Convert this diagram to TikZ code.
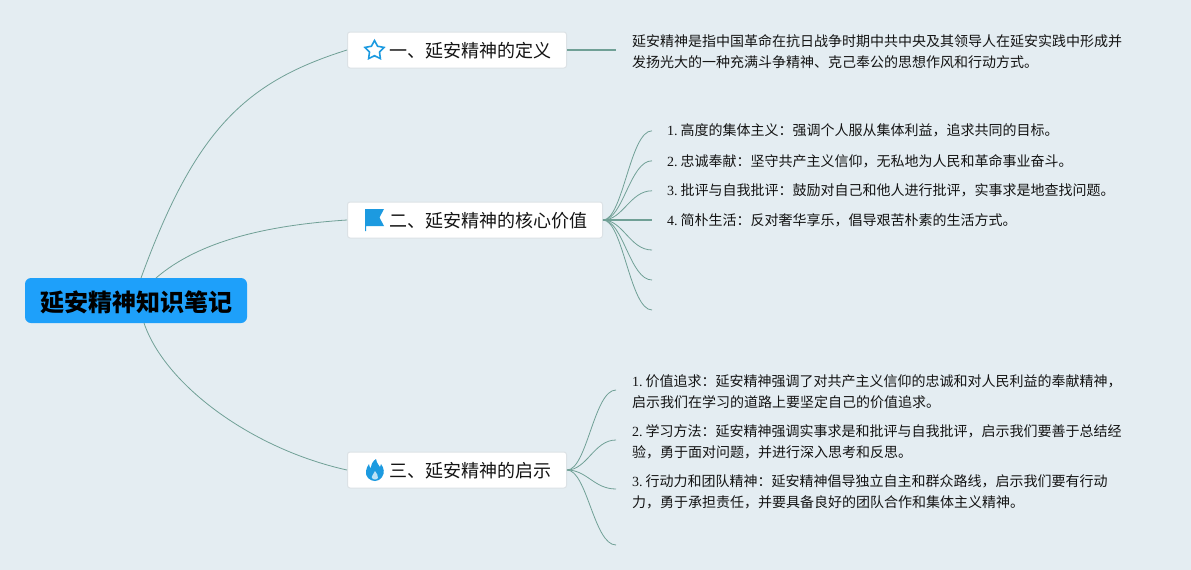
\documentclass[tikz,border=0pt]{standalone}
\usepackage{fontspec}
\setmainfont{Noto Sans CJK SC}
\newfontfamily\numfont{Liberation Serif}
\usetikzlibrary{positioning,shapes.geometric}
\definecolor{bgCol}{RGB}{228,237,242}
\definecolor{rootCol}{RGB}{30,160,250}
\definecolor{iconCol}{RGB}{28,154,224}
\definecolor{lineCol}{RGB}{112,160,150}
\definecolor{edgeCol}{RGB}{220,226,230}
\definecolor{inkCol}{RGB}{20,20,20}
\tikzset{
  rootbox/.style={fill=rootCol,rounded corners=6pt,minimum width=222pt,minimum height=45pt,
                  inner sep=0pt,text height=23pt,text depth=1.8pt,
                  font=\fontsize{24}{28}\selectfont\bfseries,text=black},
  topic/.style={draw=edgeCol,fill=white,rounded corners=2.5pt,line width=1pt,anchor=west,
                minimum height=36pt,inner xsep=15pt,inner ysep=0pt,text height=17pt,text depth=2pt,
                font=\fontsize{18}{22}\selectfont,text=inkCol},
  leaf/.style={anchor=west,align=left,inner ysep=0pt,text=inkCol,
               font=\fontsize{14}{21.4}\selectfont},
  branch/.style={draw=lineCol,line width=0.8pt},
  icon/.style={fill=iconCol},
}
\newcommand{\nr}[1]{{\numfont #1}\kern3pt}
\begin{document}
\begin{tikzpicture}[x=1pt,y=-1pt]
    \fill[bgCol] (0,0) rectangle (1191,570);
    \useasboundingbox (0,0) rectangle (1191,570);
    % --- root and the three topics ---
    \node[rootbox] (root) at (136,300.5) {延安精神知识笔记};
    \node[topic] (defn) at (347,50) {\kern27pt 一、延安精神的定义};
    \node[topic] (core) at (347,220) {\kern27pt 二、延安精神的核心价值};
    \node[topic] (lesson) at (347,470) {\kern27pt 三、延安精神的启示};
    % --- root to topics ---
    \coordinate (rootA) at (141,278);
    \coordinate (rootB) at (156,278);
    \coordinate (rootC) at (144,323);
    \draw[branch] (rootA) .. controls (195,130) and (245,82) .. (defn.west);
    \draw[branch] (rootB) .. controls (200,240) and (270,225) .. (core.west);
    \draw[branch] (rootC) .. controls (165,385) and (252,449) .. (lesson.west);
    % --- definition ---
    \node[leaf,inner xsep=16pt] (defnText) at (616,51.5)
        {延安精神是指中国革命在抗日战争时期中共中央及其领导人在延安实践中形成并\\
         发扬光大的一种充满斗争精神、克己奉公的思想作风和行动方式。};
    \draw[branch,line width=1.2pt] (defn.east) -- (defn.east -| defnText.west);
    % --- core values ---
    \node[leaf,inner xsep=15pt] (valA) at (652,130.8) {\nr{1.}高度的集体主义：强调个人服从集体利益，追求共同的目标。};
    \node[leaf,inner xsep=15pt] (valB) at (652,160.8) {\nr{2.}忠诚奉献：坚守共产主义信仰，无私地为人民和革命事业奋斗。};
    \node[leaf,inner xsep=15pt] (valC) at (652,190.8) {\nr{3.}批评与自我批评：鼓励对自己和他人进行批评，实事求是地查找问题。};
    \node[leaf,inner xsep=15pt] (valD) at (652,220.8) {\nr{4.}简朴生活：反对奢华享乐，倡导艰苦朴素的生活方式。};
    \coordinate (valE) at (652,250);
    \coordinate (valF) at (652,280);
    \coordinate (valG) at (652,310);
    \foreach \t in {valA.west,valB.west,valC.west,valE,valF,valG}
      \draw[branch] (core.east) .. controls +(20,0) and ([xshift=-22pt]\t) .. (\t);
    \draw[branch,line width=1.2pt] (core.east) -- (core.east -| valD.west);
    % --- lessons ---
    \node[leaf,inner xsep=16pt] (lesA) at (616,391.8)
        {\nr{1.}价值追求：延安精神强调了对共产主义信仰的忠诚和对人民利益的奉献精神，\\
         启示我们在学习的道路上要坚定自己的价值追求。};
    \node[leaf,inner xsep=16pt] (lesB) at (616,441.8)
        {\nr{2.}学习方法：延安精神强调实事求是和批评与自我批评，启示我们要善于总结经\\
         验，勇于面对问题，并进行深入思考和反思。};
    \node[leaf,inner xsep=16pt] (lesC) at (616,492)
        {\nr{3.}行动力和团队精神：延安精神倡导独立自主和群众路线，启示我们要有行动\\
         力，勇于承担责任，并要具备良好的团队合作和集体主义精神。};
    \coordinate (lesD) at (616,545);
    \coordinate (lesAend) at (616,390);
    \coordinate (lesBend) at (616,440);
    \coordinate (lesCend) at (616,489);
    \foreach \t in {lesAend,lesBend,lesCend,lesD}
      \draw[branch] (lesson.east) .. controls +(20,0) and ([xshift=-22pt]\t) .. (\t);
    % --- icons ---
    \node[star,star points=5,star point ratio=1.9,draw=iconCol,line width=1.6pt,
          minimum size=20pt,inner sep=0pt] (starIcon) at (374.5,50.5) {};
    \fill[icon] (365,209) -- (384,209) -- (379.5,217.5) -- (384,226) -- (366,226) -- (366,231) -- (365,231) -- cycle;
    \fill[icon] (376,459) .. controls (377,464) and (379,465) .. (380,467)
        .. controls (381,466) and (381,465) .. (381,464)
        .. controls (384,468) and (385,473) .. (382,477)
        .. controls (380,480) and (377,481) .. (375,481)
        .. controls (370,481) and (365,477) .. (366,471)
        .. controls (366,468) and (368,466) .. (369,464)
        .. controls (369,466) and (370,468) .. (371,468)
        .. controls (371,464) and (373,461) .. (376,459) -- cycle;
    \fill[white!70!iconCol] (375,471) .. controls (376,474) and (379,475) .. (378,478)
        .. controls (377,480) and (373,480) .. (372,478)
        .. controls (371,476) and (374,474) .. (375,471) -- cycle;
  \end{tikzpicture}
\end{document}
